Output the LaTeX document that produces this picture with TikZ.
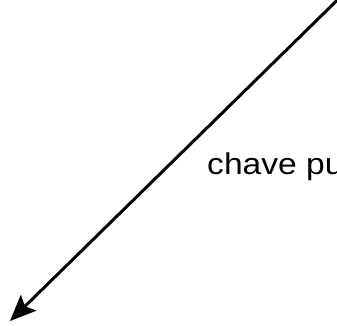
\documentclass[tikz,border=0pt]{standalone}
\usepackage{fontspec}
\setmainfont{Liberation Sans}
\usetikzlibrary{arrows.meta}
\begin{document}
\begin{tikzpicture}[x=1pt,y=1pt,
  conn/.style={line width=3pt,-{Stealth[length=26pt,width=22pt,inset=5pt]}},
  lbl/.style={inner sep=0pt,anchor=base west,xscale=1.12,transform shape,font=\fontsize{30}{36}\selectfont}]
\useasboundingbox (0,0) rectangle (337,325);
\clip (0,0) rectangle (337,325);
\coordinate (a) at (343,330.5);
\coordinate (b) at (10,4);
\draw[conn] (a) -- (b);
\node[lbl] (t) at (207,151) {chave pu};
\end{tikzpicture}
\end{document}
